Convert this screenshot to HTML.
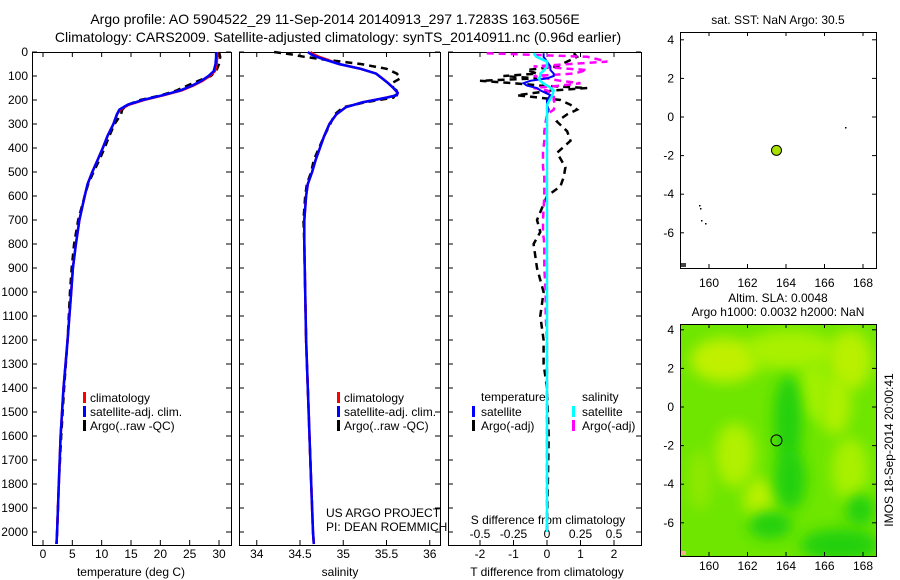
<!DOCTYPE html>
<html><head><meta charset="utf-8">
<style>
html,body{margin:0;padding:0;background:#fff;}
svg{display:block;font-family:"Liberation Sans",sans-serif;}
text{fill:#000;}
</style></head>
<body>
<svg id="fig" width="900" height="580" viewBox="0 0 900 580" xmlns="http://www.w3.org/2000/svg">
<defs>
<filter id="blur" x="-50%" y="-50%" width="200%" height="200%"><feGaussianBlur stdDeviation="7"/></filter>
<clipPath id="mapclip"><rect x="680" y="324" width="196" height="232"/></clipPath>
</defs>
<text x="335" y="24" font-size="14" text-anchor="middle">Argo profile: AO 5904522_29 11-Sep-2014 20140913_297 1.7283S 163.5056E</text>
<text x="338" y="42" font-size="14" text-anchor="middle">Climatology: CARS2009. Satellite-adjusted climatology: synTS_20140911.nc (0.96d earlier)</text>
<g id="plots"></g>
</svg>
<script>
// ---- data ----
const tDepth   = [0,20,50,80,100,120,140,160,180,200,220,240,260,300,350,400,450,500,550,600,700,800,900,1000,1200,1400,1600,1800,2000,2050];
const tClim    = [29.7,29.7,29.6,29.3,28.4,27.2,25.6,23.6,20.6,17.2,14.6,13.2,12.6,12.0,11.0,10.2,9.3,8.4,7.6,7.1,6.2,5.6,5.1,4.8,4.2,3.5,3.0,2.7,2.4,2.3];
const tArgo    = [30.0,30.2,30.0,29.5,28.6,26.5,24.6,22.8,20.2,16.6,14.4,13.5,13.3,12.2,11.3,10.5,9.6,8.6,7.7,7.1,6.0,5.3,4.9,4.6,4.2,3.6,3.1,2.7,2.4,2.3];
const sDepth   = [0,10,20,30,50,70,90,110,130,150,170,180,190,210,230,260,300,350,400,450,500,550,600,700,800,1000,1200,1400,1600,1800,2000,2050];
const sClim    = [34.62,34.66,34.72,34.80,34.95,35.20,35.38,35.45,35.52,35.58,35.63,35.62,35.50,35.22,35.03,34.92,34.84,34.78,34.73,34.68,34.64,34.59,34.57,34.55,34.55,34.56,34.57,34.59,34.61,34.63,34.65,34.66];
const sArgo    = [34.20,34.40,34.55,34.75,35.20,35.50,35.62,35.66,35.56,35.58,35.65,35.60,35.58,35.25,35.00,34.90,34.85,34.78,34.72,34.66,34.63,34.58,34.56,34.54,34.55,34.56,34.57,34.59,34.61,34.63,34.65,34.66];
const dDepth   = [5,20,40,60,75,90,100,110,120,130,140,150,160,180,200,220,240,260,290,330,370,420,480,520,560,600,700,750,800,900,1000,1100,1200,1300,1400,1600,2000];
const dTArgo   = [0.8,0.9,0.6,0.3,-0.6,-0.3,-1.3,-0.3,-2.0,-1.0,-0.2,1.2,0.2,-0.9,0.4,0.7,0.9,0.6,0.3,0.6,0.7,0.3,0.55,0.5,0.4,0.0,-0.3,-0.2,-0.4,-0.3,-0.1,-0.2,-0.1,-0.1,0.0,0.05,0.0];
const dTSat    = [-0.1,-0.1,0.0,0.1,0.1,0.2,0.2,0.0,-0.5,-0.7,-0.6,-0.3,-0.2,0.1,0.0,0.0,0.05,0.0,0.0,0.0,0.0,0.0,0.0,0.0,0.0,0.0,0.0,0.0,0.0,0.0,0.0,0.0,0.0,0.0,0.0,0.0,0.0];
const dSArgo   = [-0.45,0.3,0.45,-0.1,0.3,0.2,-0.1,0.0,0.1,0.25,0.1,-0.1,0.0,0.05,0.05,0.06,0.05,0.0,-0.01,-0.02,-0.02,-0.03,-0.03,-0.02,-0.02,-0.02,-0.03,-0.03,-0.02,-0.02,-0.01,-0.01,0.0,0.0,0.0,0.0,0.0];
const dSSat    = [-0.1,-0.08,0.0,0.0,-0.02,-0.05,-0.05,-0.06,-0.05,-0.03,0.0,0.03,0.05,0.04,0.02,0.0,0.0,0.0,0.0,0.0,0.0,0.0,0.0,0.0,0.0,0.0,0.0,0.0,0.0,0.0,0.0,0.0,0.0,0.0,0.0,0.0,0.0];
const depthTicks = [0,100,200,300,400,500,600,700,800,900,1000,1100,1200,1300,1400,1500,1600,1700,1800,1900,2000];
const tTicks = [0,5,10,15,20,25,30];
const sTicks = [34,34.5,35,35.5,36];
const dTTicks = [-2,-1,0,1,2];
const dSTicks = [-0.5,-0.25,0,0.25,0.5];
const dSTickLabels = ["-0.5","-0.25","0","0.25","0.5"];
const lonTicks = [160,162,164,166,168];
const latTicks = [4,2,0,-2,-4,-6];
const profLon = [163.5056];
const profLat = [-1.7283];

// ---- scales ----
const NS="http://www.w3.org/2000/svg";
const g=document.getElementById('plots');
function mk(tag,attrs,parent){const e=document.createElementNS(NS,tag);for(const k in attrs)e.setAttribute(k,attrs[k]);(parent||g).appendChild(e);return e;}
const yTop=52,yBot=545;
const yD=d=>yTop+d*24/100;
const xT=v=>43+v*(219-43)/30;
const xS=v=>300+(v-34.5)*86.5;
const xDT=v=>547+v*33.5;
const xDS=v=>547+v*134;
const xLon=v=>709+(v-160)*19.25;
const yLat1=v=>117-v*19.3;
const yLat2=v=>407-v*19.3;

function box(x0,y0,x1,y1,name){
  const r=mk('rect',{x:x0+0.5,y:y0+0.5,width:x1-x0,height:y1-y0,fill:'none',stroke:'#000','stroke-width':1});
  
  
}
function line(xs,ds,xf,color,dash,name,w){
  const p=xs.map((v,i)=>xf(v).toFixed(1)+','+yD(ds[i]).toFixed(1)).join(' ');
  const e=mk('polyline',{points:p,fill:'none',stroke:color,'stroke-width':w||2.5,'stroke-dasharray':dash||'none'});
  
  
}
function xTicks(vals,labels,xf,x0,x1,ty,name){
  vals.forEach((v,i)=>{
    const x=xf(v);
    mk('line',{x1:x,x2:x,y1:yBot,y2:yBot-5,stroke:'#000'});
    mk('line',{x1:x,x2:x,y1:yTop,y2:yTop+5,stroke:'#000'});
    const t=mk('text',{x:x,y:ty,'font-size':12,'text-anchor':'middle'});
    t.textContent=labels[i];
    
    
  });
}
function yTicks(x0,x1){
  depthTicks.forEach(d=>{const y=yD(d);
    mk('line',{x1:x0,x2:x0+5,y1:y,y2:y,stroke:'#000'});
    mk('line',{x1:x1-5,x2:x1,y1:y,y2:y,stroke:'#000'});});
}
function txt(x,y,s,size,name,anchor){
  const t=mk('text',{x:x,y:y,'font-size':size,'text-anchor':anchor||'start'});
  t.textContent=s;
  
  
  return t;
}
function legBar(x,y,color,name){
  const r=mk('rect',{x:x,y:y-9,width:3,height:11,fill:color});
  
  
}

// ---- panel 1: temperature ----
box(32,yTop,231,yBot,'temperature-axes');
yTicks(32,231);
depthTicks.forEach(d=>{
  txt(28,yD(d)+4,String(d),12,'depth-tick-label','end');
});
xTicks(tTicks,tTicks.map(String),xT,32,231,558,'temperature-tick-label');
txt(131,576,'temperature (deg C)',12,'temperature-axis-title','middle');
line(tArgo,tDepth,xT,'#000','7,5','temperature-argo-line',2.5);
line(tClim,tDepth,xT,'#ff0000','none','temperature-climatology-line',2.5);
line(tClim.map((v,i)=>v+(tDepth[i]<250?-0.2:0)),tDepth,xT,'#0000ff','none','temperature-satellite-line',2.5);
legBar(83,401,'#f00','legend-climatology-swatch');txt(90,402,'climatology',12,'legend-climatology');
legBar(83,415,'#00f','legend-satellite-swatch');txt(90,416,'satellite-adj. clim.',12,'legend-satellite');
legBar(83,429,'#000','legend-argo-swatch');txt(90,430,'Argo(..raw -QC)',12,'legend-argo');

// ---- panel 2: salinity ----
box(239,yTop,440,yBot,'salinity-axes');
yTicks(239,440);
xTicks(sTicks,sTicks.map(String),xS,239,440,558,'salinity-tick-label');
txt(340,576,'salinity',12,'salinity-axis-title','middle');
line(sArgo,sDepth,xS,'#000','7,5','salinity-argo-line',2.5);
line(sClim,sDepth,xS,'#ff0000','none','salinity-climatology-line',2.5);
line(sClim.map((v,i)=>v+(sDepth[i]<40?-0.03:0)),sDepth,xS,'#0000ff','none','salinity-satellite-line',2.5);
legBar(337,401,'#f00','legend-climatology-swatch-2');txt(344,402,'climatology',12,'legend-climatology-2');
legBar(337,415,'#00f','legend-satellite-swatch-2');txt(344,416,'satellite-adj. clim.',12,'legend-satellite-2');
legBar(337,429,'#000','legend-argo-swatch-2');txt(344,430,'Argo(..raw -QC)',12,'legend-argo-2');
txt(326,517,'US ARGO PROJECT',12,'project-label');
txt(326,531,'PI: DEAN ROEMMICH',12,'pi-label');

// ---- panel 3: differences ----
box(448,yTop,641,yBot,'difference-axes');
yTicks(448,641);
xTicks(dTTicks,dTTicks.map(String),xDT,448,641,558,'t-diff-tick-label');
dSTicks.forEach((v,i)=>txt(xDS(v),538,dSTickLabels[i],12,'s-diff-tick-label','middle'));
txt(548,524,'S difference from climatology',12,'s-diff-axis-title','middle');
txt(547,576,'T difference from climatology',12,'t-diff-axis-title','middle');
line(dTArgo,dDepth,xDT,'#000','7,5','t-diff-argo-line',2.5);
line(dSArgo,dDepth,xDS,'#ff00ff','7,5','s-diff-argo-line',2.5);
line(dTSat,dDepth,xDT,'#0000ff','none','t-diff-satellite-line',2);
line(dSSat,dDepth,xDS,'#00ffff','none','s-diff-satellite-line',2.5);
txt(481,401,'temperature',12,'legend-temperature-header');
txt(582,401,'salinity',12,'legend-salinity-header');
legBar(472,415,'#00f','legend-t-satellite-swatch');txt(481,416,'satellite',12,'legend-t-satellite');
legBar(472,429,'#000','legend-t-argo-swatch');txt(481,430,'Argo(-adj)',12,'legend-t-argo');
legBar(572,415,'#0ff','legend-s-satellite-swatch');txt(582,416,'satellite',12,'legend-s-satellite');
legBar(572,429,'#f0f','legend-s-argo-swatch');txt(582,430,'Argo(-adj)',12,'legend-s-argo');

// ---- top map: SST ----
txt(778,24,'sat. SST: NaN Argo: 30.5',12,'sst-map-title','middle');
box(680,32,876,268,'sst-map-axes');
lonTicks.forEach(v=>{const x=xLon(v);
  mk('line',{x1:x,x2:x,y1:32,y2:36,stroke:'#000'});mk('line',{x1:x,x2:x,y1:268,y2:264,stroke:'#000'});
  txt(x,287,String(v),12,'sst-lon-tick-label','middle');});
latTicks.forEach(v=>{const y=yLat1(v);
  mk('line',{x1:680,x2:684,y1:y,y2:y,stroke:'#000'});mk('line',{x1:872,x2:876,y1:y,y2:y,stroke:'#000'});
  txt(674,y+4,String(v),12,'sst-lat-tick-label','end');});
[[699,205],[700,208],[701,220],[705,223],[845,127]].forEach(p=>{mk('rect',{x:p[0],y:p[1],width:1.5,height:1.5,fill:'#000'});});
mk('rect',{x:681,y:263,width:5,height:4,fill:'#444'});
profLon.forEach((v,i)=>{const c=mk('circle',{cx:xLon(v),cy:yLat1(profLat[i]),r:5,fill:'#a8e000',stroke:'#000','stroke-width':1});
  
  });

// ---- bottom map: SLA ----
txt(778,302,'Altim. SLA: 0.0048',12,'sla-map-title-1','middle');
txt(778,316,'Argo h1000: 0.0032 h2000: NaN',12,'sla-map-title-2','middle');
const mg=mk('g',{'clip-path':'url(#mapclip)'});
mk('rect',{x:680,y:324,width:196,height:232,fill:'#6ee600'},mg);
const blobs=[[725,360,35,22,'#c0f000'],[790,350,45,20,'#a8f000'],[850,360,22,30,'#b8f000'],[835,405,16,30,'#b0f000'],[735,455,20,32,'#b0f000'],[850,470,18,32,'#a8f000'],[760,500,16,22,'#b8f000'],[700,480,12,30,'#90e800'],[815,390,16,30,'#a0f000']];
blobs.forEach(b=>mk('ellipse',{cx:b[0],cy:b[1],rx:b[2],ry:b[3],fill:b[4],filter:'url(#blur)'},mg));
[[788,420,14,45],[790,480,16,30],[840,545,40,16],[770,525,22,14],[860,510,14,16]].forEach(b=>mk('ellipse',{cx:b[0],cy:b[1],rx:b[2],ry:b[3],fill:'#22d010',filter:'url(#blur)'},mg));
box(680,324,876,556,'sla-map-axes');
lonTicks.forEach(v=>{const x=xLon(v);
  mk('line',{x1:x,x2:x,y1:324,y2:328,stroke:'#000'});mk('line',{x1:x,x2:x,y1:556,y2:552,stroke:'#000'});
  txt(x,570,String(v),12,'sla-lon-tick-label','middle');});
latTicks.forEach(v=>{const y=yLat2(v);
  mk('line',{x1:680,x2:684,y1:y,y2:y,stroke:'#000'});mk('line',{x1:872,x2:876,y1:y,y2:y,stroke:'#000'});
  txt(674,y+4,String(v),12,'sla-lat-tick-label','end');});
mk('rect',{x:681,y:551,width:5,height:4,fill:'#f4b090'});
profLon.forEach((v,i)=>{const c=mk('circle',{cx:xLon(v),cy:yLat2(profLat[i]),r:5.5,fill:'none',stroke:'#000','stroke-width':1});
  
  });
const side=txt(0,0,'IMOS 18-Sep-2014 20:00:41',12,'imos-timestamp','middle');
side.setAttribute('transform','translate(893,450) rotate(-90)');
</script>
</body></html>
